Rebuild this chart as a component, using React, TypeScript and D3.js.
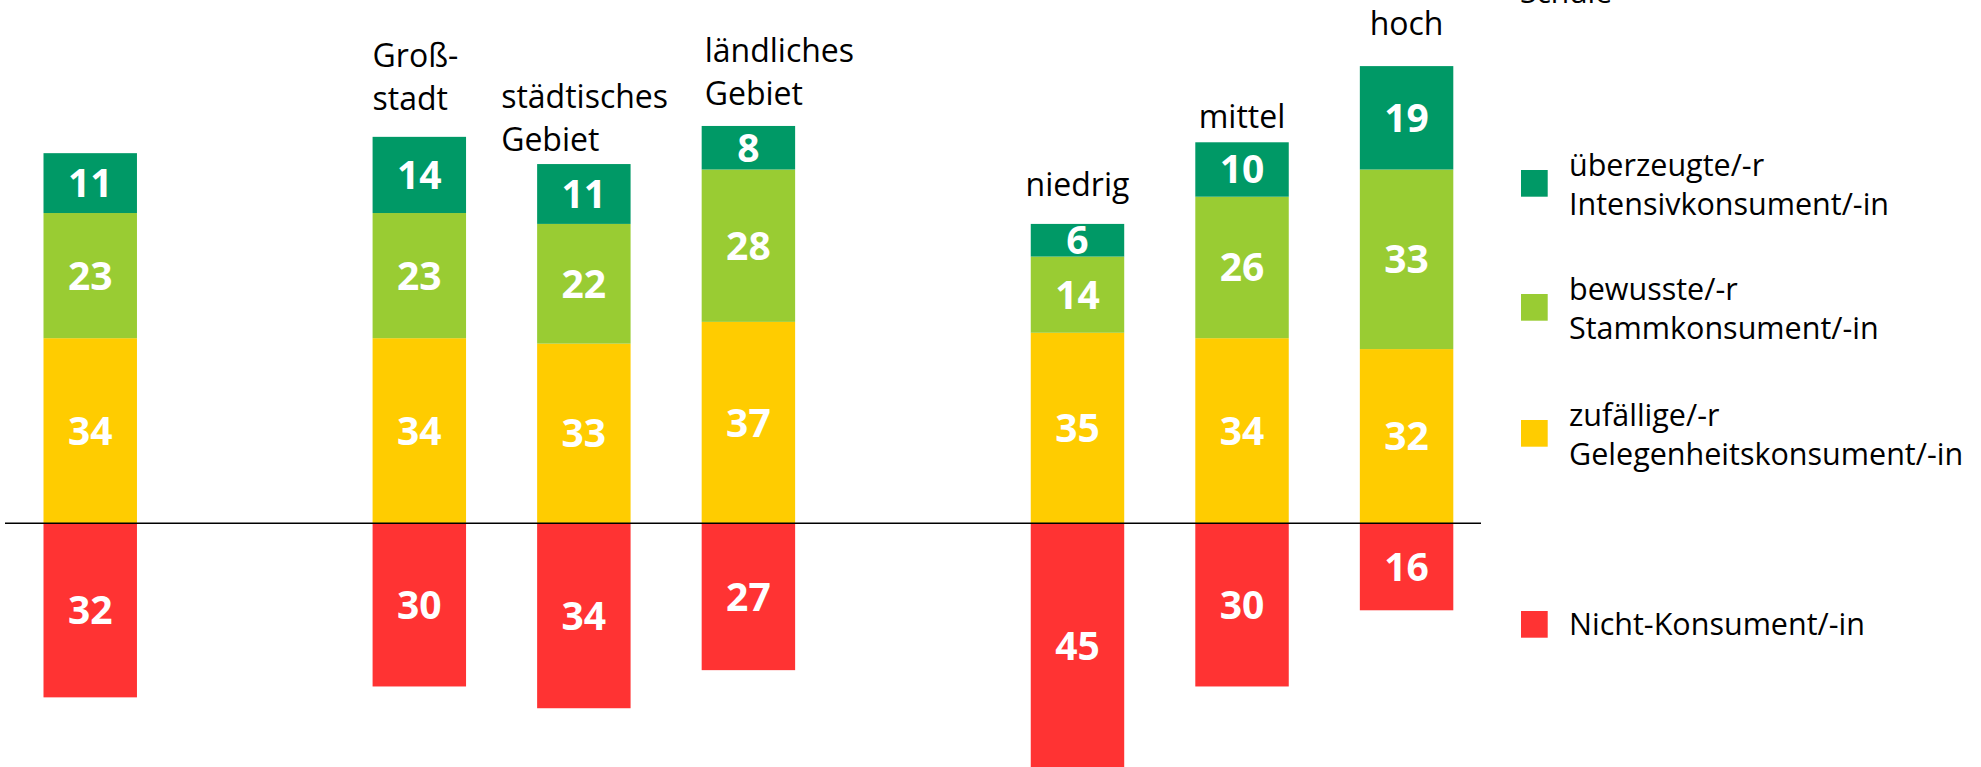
import React, { useRef, useEffect } from "react";
import * as d3 from "d3";

// three groups of bars, a gap slot is put between groups
const groups = [
  ["Gesamt"],
  ["Großstadt", "städtisches Gebiet", "ländliches Gebiet"],
  ["niedrig", "mittel", "hoch"],
];
const categories = groups.flat();
const categoryLines = [
  [],
  ["Groß-", "stadt"],
  ["städtisches", "Gebiet"],
  ["ländliches", "Gebiet"],
  ["niedrig"],
  ["mittel"],
  ["hoch"],
];

const intensiv = [11, 14, 11, 8, 6, 10, 19];
const stamm = [23, 23, 22, 28, 14, 26, 33];
const gelegenheit = [34, 34, 33, 37, 35, 34, 32];
const nicht = [32, 30, 34, 27, 45, 30, 16];

const seriesKeys = ["nicht", "gelegenheit", "stamm", "intensiv"];
const seriesColors = {
  intensiv: "#009966",
  stamm: "#99cc33",
  gelegenheit: "#ffcc00",
  nicht: "#ff3333",
};
const legendKeys = ["intensiv", "stamm", "gelegenheit", "nicht"];
const legendLines = {
  intensiv: ["überzeugte/-r", "Intensivkonsument/-in"],
  stamm: ["bewusste/-r", "Stammkonsument/-in"],
  gelegenheit: ["zufällige/-r", "Gelegenheitskonsument/-in"],
  nicht: ["Nicht-Konsument/-in"],
};

// hand placement of the header labels (lift above bar top, x shift for left aligned blocks)
const labelLift = [0, 27, 13, 21, 28, 14, 31];
const labelDx = [0, 0, -36, 3, 0, 0, 0];
const legendTop = [170, 294, 420, 611];

const App = () => {
  const ref = useRef(null);
  const width = 1981;
  const height = 767;

  useEffect(() => {
    const svg = d3.select(ref.current);
    svg.selectAll("*").remove();

    const font = "'Open Sans', 'Noto Sans', sans-serif";

    const slots = [];
    groups.forEach((g, i) => {
      if (i > 0) slots.push("gap" + i);
      g.forEach((c) => slots.push(c));
    });

    const x = d3
      .scaleBand()
      .domain(slots)
      .range([43.5, 1453.3])
      .paddingInner(0.432)
      .paddingOuter(0)
      .align(0);

    const y = d3.scaleLinear().domain([-45, 84]).range([768.1, 66.1]);

    const rows = categories.map((c, i) => ({
      cat: c,
      intensiv: intensiv[i],
      stamm: stamm[i],
      gelegenheit: gelegenheit[i],
      nicht: -nicht[i],
    }));

    const stack = d3.stack().keys(seriesKeys).offset(d3.stackOffsetDiverging);
    const layers = stack(rows);

    const g = svg.append("g");

    layers.forEach((layer) => {
      const key = layer.key;
      g.selectAll(".bar-" + key)
        .data(layer)
        .enter()
        .append("rect")
        .attr("x", (d) => x(d.data.cat))
        .attr("y", (d) => y(Math.max(d[0], d[1])))
        .attr("width", x.bandwidth())
        .attr("height", (d) => Math.abs(y(d[0]) - y(d[1])))
        .attr("fill", seriesColors[key]);

      g.selectAll(".val-" + key)
        .data(layer)
        .enter()
        .append("text")
        .text((d) => Math.abs(d[1] - d[0]))
        .attr("x", (d) => x(d.data.cat) + x.bandwidth() / 2)
        .attr("y", (d) => (y(d[0]) + y(d[1])) / 2 + 14)
        .attr("text-anchor", "middle")
        .attr("fill", "#fff")
        .style("font-family", font)
        .style("font-weight", 700)
        .style("font-size", "39px");
    });

    // zero line
    g.append("line")
      .attr("x1", 5)
      .attr("x2", 1481)
      .attr("y1", y(0))
      .attr("y2", y(0))
      .attr("stroke", "#000")
      .attr("stroke-width", 1.6);

    // header labels over the bars
    categories.forEach((c, i) => {
      const lines = categoryLines[i];
      if (!lines.length) return;
      const top = y(intensiv[i] + stamm[i] + gelegenheit[i]);
      const last = top - labelLift[i];
      const multi = lines.length > 1;
      const tx = multi ? x(c) + labelDx[i] : x(c) + x.bandwidth() / 2;
      const t = g
        .append("text")
        .attr("text-anchor", multi ? "start" : "middle")
        .attr("fill", "#000")
        .style("font-family", font)
        .style("font-size", "32px");
      lines.forEach((ln, j) => {
        t.append("tspan")
          .attr("x", tx)
          .attr("y", last - (lines.length - 1 - j) * 43.3)
          .text(ln);
      });
    });

    // cut off heading at the top edge
    g.append("text")
      .attr("x", 1520)
      .attr("y", 2.5)
      .attr("fill", "#000")
      .style("font-family", font)
      .style("font-size", "30px")
      .text("Schule");

    // legend
    legendKeys.forEach((k, i) => {
      const top = legendTop[i];
      const lines = legendLines[k];
      g.append("rect")
        .attr("x", 1521)
        .attr("y", top)
        .attr("width", 26.7)
        .attr("height", 26.7)
        .attr("fill", seriesColors[k]);
      const base = lines.length > 1 ? top + 6 : top + 24;
      const t = g
        .append("text")
        .attr("fill", "#000")
        .style("font-family", font)
        .style("font-size", "30.5px");
      lines.forEach((ln, j) => {
        t.append("tspan")
          .attr("x", 1569)
          .attr("y", base + j * 38.5)
          .text(ln);
      });
    });
  }, []);

  return (
    <svg
      ref={ref}
      width={width}
      height={height}
      style={{ position: "absolute", left: 0, top: 0, background: "#fff" }}
    ></svg>
  );
};

export default App;
